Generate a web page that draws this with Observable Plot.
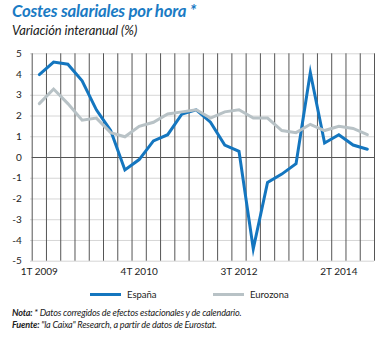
<!DOCTYPE html>
<html>
<head>
<meta charset="utf-8">
<script src="https://cdn.jsdelivr.net/npm/d3@7"></script>
<script src="https://cdn.jsdelivr.net/npm/@observablehq/plot@0.6"></script>
<style>
  body { margin: 0; background: #fff; }
  #wrap { position: relative; width: 379px; height: 338px; overflow: hidden; font-family: Lato, "Open Sans", sans-serif; color: #222; }
  #title { position: absolute; left: 12px; top: 1px; font-weight: 700; font-style: italic; font-size: 16.8px; color: #1a7bc4; line-height: 20px; letter-spacing: -0.2px; white-space: nowrap; }
  #subtitle { position: absolute; left: 12px; top: 21px; font-style: italic; font-size: 13px; line-height: 18px; color: #222; white-space: nowrap; letter-spacing: -0.1px; }
  #chart { position: absolute; left: 0; top: 40px; }
  #legend { position: absolute; left: 0; top: 287px; width: 379px; height: 16px; font-size: 9.5px; }
  .lg { position: absolute; top: 0; height: 16px; line-height: 16px; white-space: nowrap; }
  .sw { display: inline-block; width: 31px; height: 3px; vertical-align: middle; margin-right: 6px; position: relative; top: -1px; }
  #notes { position: absolute; left: 12px; top: 307px; font-size: 9.1px; font-style: italic; line-height: 12px; white-space: nowrap; letter-spacing: -0.2px; color: #222; }
  #notes b { font-weight: 700; }
</style>
</head>
<body>
<div id="wrap">
  <div id="title">Costes salariales por hora *</div>
  <div id="subtitle">Variación interanual (%)</div>
  <div id="chart"></div>
  <div id="legend"></div>
  <div id="notes">
    <div><b>Nota:</b> * Datos corregidos de efectos estacionales y de calendario.</div>
    <div><b>Fuente:</b> "la Caixa" Research, a partir de datos de Eurostat.</div>
  </div>
</div>
<script>
const quarters = [
  "1T 2009","2T 2009","3T 2009","4T 2009",
  "1T 2010","2T 2010","3T 2010","4T 2010",
  "1T 2011","2T 2011","3T 2011","4T 2011",
  "1T 2012","2T 2012","3T 2012","4T 2012",
  "1T 2013","2T 2013","3T 2013","4T 2013",
  "1T 2014","2T 2014","3T 2014","4T 2014"
];
const espana = [4.0, 4.6, 4.5, 3.7, 2.3, 1.3, -0.6, -0.1, 0.8, 1.1, 2.1, 2.3,
                1.7, 0.6, 0.3, -4.4, -1.2, -0.8, -0.3, 4.1, 0.7, 1.1, 0.6, 0.4];
const eurozona = [2.6, 3.3, 2.6, 1.8, 1.9, 1.2, 1.0, 1.5, 1.7, 2.1, 2.2, 2.3,
                  1.9, 2.2, 2.3, 1.9, 1.9, 1.3, 1.2, 1.6, 1.3, 1.5, 1.4, 1.1];
const xTickLabels = ["1T 2009", "4T 2010", "3T 2012", "2T 2014"];
const yTicks = [-5, -4, -3, -2, -1, 0, 1, 2, 3, 4, 5];
const seriesNames = ["España", "Eurozona"];
const colors = ["#1476bf", "#b8c2c6"];

const rows = [];
quarters.forEach((q, i) => {
  rows.push({i, q, serie: seriesNames[0], v: espana[i]});
  rows.push({i, q, serie: seriesNames[1], v: eurozona[i]});
});
const bounds = d3.range(quarters.length + 1).map(k => k - 0.5);
const xTickIdx = xTickLabels.map(l => quarters.indexOf(l));

const chart = Plot.plot({
  width: 379,
  height: 245,
  marginLeft: 31.7,
  marginRight: 5,
  marginTop: 13.3,
  marginBottom: 24.3,
  style: { fontFamily: "Lato, 'Open Sans', sans-serif", fontSize: "10px", color: "#222", background: "transparent" },
  x: { type: "linear", domain: [-0.5, quarters.length - 0.5] },
  y: { domain: [-5, 5] },
  marks: [
    Plot.ruleY(yTicks.filter(t => t !== 0), { x1: -0.62, x2: quarters.length - 0.5, stroke: "#d6d6d6", strokeWidth: 1 }),
    Plot.axisY({ ticks: yTicks, tickSize: 0, tickPadding: 10.5, label: null, tickFormat: d => d < 0 ? "-" + Math.abs(d) : String(d) }),
    Plot.axisX({ ticks: xTickIdx, tickSize: 0, tickPadding: 7, label: null, tickFormat: i => quarters[i], fontSize: 10 }),
    Plot.ruleY([0], { x1: -0.5, x2: quarters.length - 0.5, stroke: "#555", strokeWidth: 1 }),
    Plot.tickX(bounds, { x: d => d, y1: 0.14, y2: -0.05, stroke: "#555", strokeWidth: 1 }),
    Plot.line(rows, { x: "i", y: "v", z: "serie", stroke: "serie", strokeWidth: 3, strokeLinejoin: "miter", strokeMiterlimit: 10 }),
  ],
  color: { domain: seriesNames, range: colors }
});
document.getElementById("chart").appendChild(chart);

const legend = document.getElementById("legend");
const legendLeft = [90, 213];
seriesNames.forEach((s, k) => {
  const el = document.createElement("div");
  el.className = "lg";
  el.style.left = legendLeft[k] + "px";
  el.innerHTML = `<span class="sw" style="background:${colors[k]}"></span>${s}`;
  legend.appendChild(el);
});
</script>
</body>
</html>
